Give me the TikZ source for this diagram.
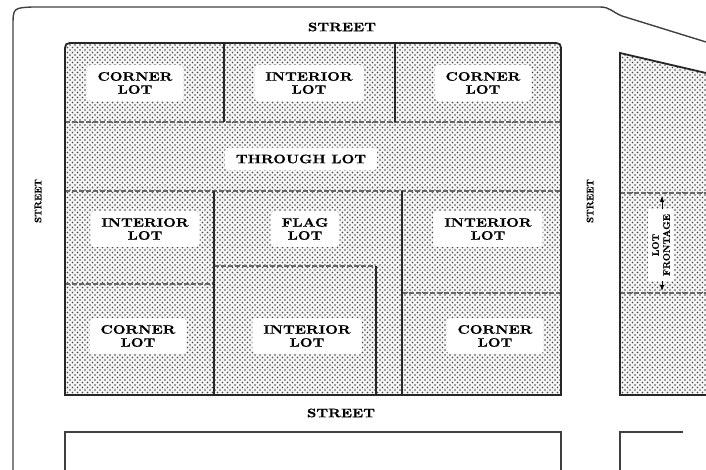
\documentclass[tikz,border=0pt]{standalone}
\usepackage{fontspec}
\newfontfamily\lotfont[FakeStretch=1.2,FakeBold=0.6]{lmroman10-bold.otf}
\newfontfamily\lotfontn[FakeBold=0.4]{lmroman10-bold.otf}
\usetikzlibrary{patterns,arrows.meta}
\pgfdeclarepatternformonly{lotdots}{\pgfqpoint{-1pt}{-1pt}}{\pgfqpoint{6pt}{6pt}}{\pgfqpoint{5pt}{5pt}}{%
  \pgfpathcircle{\pgfqpoint{0pt}{0pt}}{0.85pt}%
  \pgfpathcircle{\pgfqpoint{2.5pt}{2.5pt}}{0.85pt}%
  \pgfusepath{fill}}
\tikzset{
  lotfill/.style={preaction={fill=gray!8}, pattern=lotdots, pattern color=black!72},
  border/.style={line width=1.8pt, black!85},
  divider/.style={line width=1.3pt, black!85},
  dashdiv/.style={line width=1.2pt, black!60, dash pattern=on 5pt off 2pt},
  roadline/.style={line width=1.4pt, black!75},
  lbl/.style={fill=white, inner xsep=11pt, inner ysep=7pt, align=center, rounded corners=4pt,
    font=\lotfont\fontsize{12.3}{13}\selectfont},
  streetlbl/.style={inner sep=1pt, font=\lotfont\fontsize{12.3}{13}\selectfont},
  sidestreet/.style={inner sep=1pt, font=\lotfontn\fontsize{9.5}{10}\selectfont},
}
\begin{document}
\begin{tikzpicture}[x=1pt,y=-1pt]
\useasboundingbox (0,0) rectangle (706,470);
% outer street boundary
\draw[roadline] (13,470) -- (13,27) .. controls (13,8) .. (32,7) -- (600,7)
   .. controls (610,7) and (612,12) .. (622,16) -- (706,42);
% main block
\path[lotfill] (65,395) -- (65,53) .. controls (65,43) .. (75,43) -- (551,43)
   .. controls (561,43) .. (561,53) -- (561,395) -- cycle;
% right block
\path[lotfill] (620,395) -- (620,53) -- (706,73) -- (706,395) -- cycle;
% dashed dividers
\draw[dashdiv] (65,122) -- (561,122);
\draw[dashdiv] (65,191) -- (561,191);
\draw[dashdiv] (65,284) -- (214,284);
\draw[dashdiv] (214,266) -- (376,266);
\draw[dashdiv] (402,293) -- (561,293);
\draw[dashdiv] (620,193) -- (706,193);
\draw[dashdiv] (620,293) -- (706,293);
% solid dividers
\draw[divider] (224,43) -- (224,122);
\draw[divider] (395,43) -- (395,122);
\draw[divider] (214,191) -- (214,395);
\draw[divider] (402,191) -- (402,395);
\draw[divider] (376,266) -- (376,395);
% block borders
\draw[border] (65,395) -- (65,53) .. controls (65,43) .. (75,43) -- (551,43)
   .. controls (561,43) .. (561,53) -- (561,395) -- cycle;
\draw[border] (706,395) -- (620,395) -- (620,53) -- (706,73);
% lower blocks
\draw[roadline] (65,470) -- (65,432) -- (561,432) -- (561,470);
\draw[roadline] (683,432) -- (620,432) -- (620,470);
% labels
\node[lbl] (c1) at (135,83) {CORNER\\LOT};
\node[lbl] (i1) at (309,83) {INTERIOR\\LOT};
\node[lbl] (c2) at (483,83) {CORNER\\LOT};
\node[lbl] (th) at (301,159) {THROUGH LOT};
\node[lbl] (i2) at (145,229) {INTERIOR\\LOT};
\node[lbl] (fl) at (305,229) {FLAG\\LOT};
\node[lbl] (i3) at (488,229) {INTERIOR\\LOT};
\node[lbl] (c3) at (138,336) {CORNER\\LOT};
\node[lbl] (i4) at (307,336) {INTERIOR\\LOT};
\node[lbl] (c4) at (495,336) {CORNER\\LOT};
% frontage arrow
\coordinate (ft) at (662,196);
\coordinate (fb) at (662,291);
\draw[line width=0.8pt, {Latex[length=6pt,width=4.5pt]}-{Latex[length=6pt,width=4.5pt]}] (ft) -- (fb);
\node[fill=white, rotate=90, inner xsep=5pt, inner ysep=4pt, align=center,
      font=\lotfontn\fontsize{9.5}{11}\selectfont] (lf) at (661,245) {LOT\\FRONTAGE};
% street labels
\node[streetlbl] (st) at (342,27) {STREET};
\node[streetlbl] (sb) at (341,413) {STREET};
\node[sidestreet, rotate=90] (sl) at (38,201) {STREET};
\node[sidestreet, rotate=90] (sr) at (590,201) {STREET};
\end{tikzpicture}
\end{document}
